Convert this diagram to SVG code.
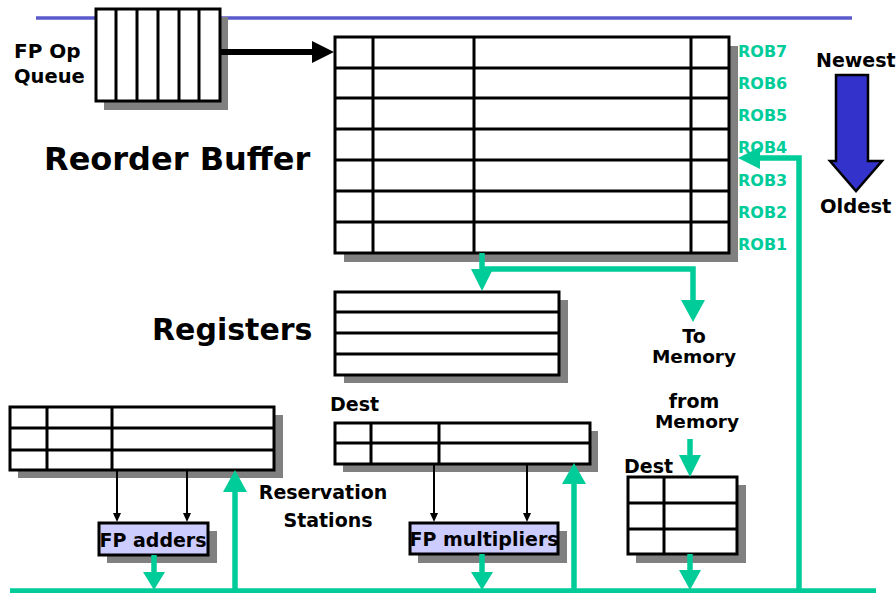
<svg xmlns="http://www.w3.org/2000/svg" width="896" height="593" viewBox="0 0 896 593">
<style>
  .t{font-family:"DejaVu Sans","Liberation Sans",sans-serif;font-weight:bold;fill:#000}
  .rob{font-family:"DejaVu Sans","Liberation Sans",sans-serif;font-weight:bold;fill:#00CC99;font-size:16px}
  .box{fill:#fff;stroke:#000;stroke-width:3}
  .grid{stroke:#000;stroke-width:3;fill:none}
  .sh{fill:#808080}
  .fu{fill:#CCCCFF;stroke:#000;stroke-width:3}
  .g{stroke:#00CC99;stroke-width:5.5;fill:none}
  .gh{fill:#00CC99}
  .k{stroke:#000;stroke-width:2;fill:none}
</style>
<rect width="896" height="593" fill="#fff"/>
<line x1="36" y1="18" x2="852" y2="18" stroke="#5A5ACC" stroke-width="3.5"/>

<g id="fp-op-queue">
  <rect class="sh" x="104" y="17" width="124" height="93"/>
  <rect class="box" x="96" y="9" width="124" height="92"/>
  <path class="grid" d="M116,9V101M137,9V101M158,9V101M179,9V101M199,9V101"/>
  <text class="t" x="14" y="58" font-size="20">FP Op</text>
  <text class="t" x="14" y="83" font-size="19.5">Queue</text>
</g>

<g id="reorder-buffer">
  <rect class="sh" x="344" y="46" width="394" height="216"/>
  <rect class="box" x="335" y="37" width="394" height="216"/>
  <path class="grid" d="M335,68H729M335,98H729M335,129H729M335,160H729M335,191H729M335,222H729M373,37V253M474,37V253M691,37V253"/>
  <text class="t" x="44" y="170" font-size="32">Reorder Buffer</text>
  <text class="rob" x="738" y="57">ROB7</text>
  <text class="rob" x="738" y="89">ROB6</text>
  <text class="rob" x="738" y="121">ROB5</text>
  <text class="rob" x="738" y="153">ROB4</text>
  <text class="rob" x="738" y="186">ROB3</text>
  <text class="rob" x="738" y="218">ROB2</text>
  <text class="rob" x="738" y="250">ROB1</text>
</g>

<g id="order-arrow">
  <text class="t" x="816" y="67" font-size="19">Newest</text>
  <polygon points="836,75 868,75 868,161 882,161 856,191 830,161 836,161" fill="#3333CC" stroke="#000" stroke-width="2.5"/>
  <text class="t" x="820" y="213" font-size="19.5">Oldest</text>
</g>

<g id="registers">
  <rect class="sh" x="344" y="300" width="224" height="83"/>
  <rect class="box" x="335" y="292" width="224" height="83"/>
  <path class="grid" d="M335,312H559M335,333H559M335,354H559"/>
  <text class="t" x="152" y="340" font-size="30">Registers</text>
</g>

<g id="to-memory">
  <text class="t" x="694" y="343" font-size="19" text-anchor="middle">To</text>
  <text class="t" x="694" y="363" font-size="18.5" text-anchor="middle">Memory</text>
</g>

<g id="from-memory">
  <text class="t" x="694" y="408" font-size="19" text-anchor="middle">from</text>
  <text class="t" x="697" y="428" font-size="18.5" text-anchor="middle">Memory</text>
</g>

<g id="load-buffer">
  <rect class="sh" x="636" y="485" width="110" height="78"/>
  <rect class="box" x="628" y="477" width="109" height="77"/>
  <path class="grid" d="M628,503H737M628,529H737M664,477V554"/>
  <text class="t" x="624" y="473" font-size="19">Dest</text>
</g>

<g id="fp-adder-rs">
  <rect class="sh" x="18" y="415" width="265" height="63"/>
  <rect class="box" x="10" y="407" width="264" height="63"/>
  <path class="grid" d="M10,428H274M10,450H274M47,407V470M112,407V470"/>
</g>

<g id="fp-adders">
  <rect class="sh" x="107" y="531" width="110" height="32"/>
  <rect class="fu" x="99" y="523" width="109" height="32"/>
  <text class="t" x="153" y="547" font-size="19" text-anchor="middle">FP adders</text>
</g>

<g id="fp-mult-rs">
  <rect class="sh" x="343" y="431" width="255" height="41"/>
  <rect class="box" x="335" y="423" width="255" height="41"/>
  <path class="grid" d="M335,443H590M371,423V464M439,423V464"/>
  <text class="t" x="330" y="411" font-size="19">Dest</text>
</g>

<g id="reservation-label">
  <text class="t" x="323" y="499" font-size="19" text-anchor="middle">Reservation</text>
  <text class="t" x="328" y="527" font-size="19" text-anchor="middle">Stations</text>
</g>

<g id="fp-multipliers">
  <rect class="sh" x="418" y="531" width="149" height="32"/>
  <rect class="fu" x="410" y="523" width="148" height="31"/>
  <text class="t" x="484" y="546" font-size="19" text-anchor="middle">FP multipliers</text>
</g>

<g id="connectors">
  <!-- queue to ROB -->
  <line x1="220" y1="52" x2="314" y2="52" stroke="#000" stroke-width="6"/>
  <polygon points="312,41 334,52 312,63" fill="#000"/>
  <!-- CDB bus -->
  <line class="g" x1="10" y1="591" x2="876" y2="591"/>
  <!-- bus to ROB4 -->
  <path class="g" d="M799,591V158H758"/>
  <polygon class="gh" points="760,147 738,158 760,169"/>
  <!-- ROB to registers and memory -->
  <path class="g" d="M482,253V271"/>
  <path class="g" d="M482,269H693V302"/>
  <polygon class="gh" points="471,269 493,269 482,291"/>
  <polygon class="gh" points="681,300 705,300 693,322"/>
  <!-- from memory to load buffer -->
  <line class="g" x1="690" y1="439" x2="690" y2="457"/>
  <polygon class="gh" points="679,455 701,455 690,477"/>
  <!-- load buffer to bus -->
  <line class="g" x1="690" y1="554" x2="690" y2="572"/>
  <polygon class="gh" points="679,570 701,570 690,590"/>
  <!-- adders to bus -->
  <line class="g" x1="154" y1="555" x2="154" y2="574"/>
  <polygon class="gh" points="143,572 165,572 154,590"/>
  <!-- multipliers to bus -->
  <line class="g" x1="482" y1="554" x2="482" y2="574"/>
  <polygon class="gh" points="471,572 493,572 482,590"/>
  <!-- bus to adder RS -->
  <line class="g" x1="235" y1="591" x2="235" y2="490"/>
  <polygon class="gh" points="223,492 247,492 235,470"/>
  <!-- bus to mult RS -->
  <line class="g" x1="574" y1="591" x2="574" y2="482"/>
  <polygon class="gh" points="562,484 586,484 574,463"/>
  <!-- RS to units -->
  <line class="k" x1="117" y1="470" x2="117" y2="514"/>
  <polygon points="113,513 121,513 117,522"/>
  <line class="k" x1="187" y1="470" x2="187" y2="514"/>
  <polygon points="183,513 191,513 187,522"/>
  <line class="k" x1="434" y1="464" x2="434" y2="514"/>
  <polygon points="430,513 438,513 434,522"/>
  <line class="k" x1="527" y1="464" x2="527" y2="514"/>
  <polygon points="523,513 531,513 527,522"/>
</g>
</svg>
